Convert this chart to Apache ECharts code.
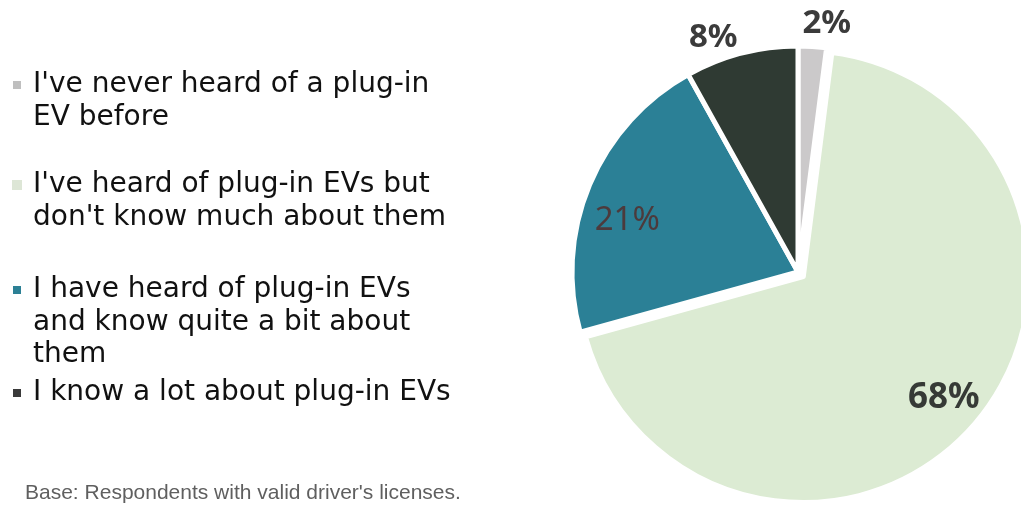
<!DOCTYPE html>
<html>
<head>
<meta charset="utf-8">
<script src="https://cdn.jsdelivr.net/npm/echarts@6/dist/echarts.min.js"></script>
<style>
  html, body { margin: 0; padding: 0; background: #ffffff; }
  #chart { width: 1021px; height: 508px; }
</style>
</head>
<body>
<div id="chart"></div>
<script>
// Survey answers about plug-in EV awareness (share of respondents, %)
const categories = [
  "I've never heard of a plug-in\nEV before",
  "I've heard of plug-in EVs but\ndon't know much about them",
  "I have heard of plug-in EVs\nand know quite a bit about\nthem",
  "I know a lot about plug-in EVs"
];
const shares = [2, 68, 21, 8];
const footnote = "Base: Respondents with valid driver's licenses.";

const colors = ['#cbc9ca', '#dcebd3', '#2b8096', '#2f3a33'];
const legendColors = ['#bfbfbf', '#dde6d6', '#2c8095', '#3a3a3a'];

// pie geometry; the large slice is pulled out from the centre
const PIE_CENTER = [798, 272];
const PIE_R = 226;
const EXPLODED = 1;
const EXPLODE_OFFSET = 7;
// label placement: fraction of radius along the slice bisector, plus a small nudge
const LABEL_POS = [
  { f: 1.10, dx: 13, dy: 0 },
  { f: 0.823, dx: 0, dy: 0 },
  { f: 0.80, dx: -4, dy: 18 },
  { f: 1.07, dx: -24, dy: 0 }
];
const labelStyles = [
  { fontSize: 33, fontWeight: 'bold', color: '#3b3b3b' },
  { fontSize: 35, fontWeight: 'bold', color: '#363a36' },
  { fontSize: 33, fontWeight: 'normal', color: '#4c3a3c' },
  { fontSize: 33, fontWeight: 'bold', color: '#3b3b3b' }
];
const LABEL_FONT = '"Noto Sans", "DejaVu Sans", sans-serif';
const LEGEND_FONT = '"DejaVu Sans", "Noto Sans", sans-serif';

const total = shares.reduce((a, b) => a + b, 0);
function midAngle(i) {
  const before = shares.slice(0, i).reduce((a, b) => a + b, 0);
  return (before + shares[i] / 2) / total * Math.PI * 2;
}
const explodeAngle = midAngle(EXPLODED);
const explodedCenter = [
  PIE_CENTER[0] + EXPLODE_OFFSET * Math.sin(explodeAngle),
  PIE_CENTER[1] - EXPLODE_OFFSET * Math.cos(explodeAngle)
];

// legend: one block per entry; leading blank lines keep the icon on the first text line
const LINE_H = 32.5;
const firstLineCenters = [85, 185, 290, 393];
const legends = categories.map((name, i) => {
  const n = name.split('\n').length;
  return {
    data: [{ name: name, itemStyle: { color: legendColors[i] } }],
    orient: 'vertical',
    left: 11,
    top: firstLineCenters[i] - (2 * n - 1) * LINE_H / 2,
    padding: 0,
    itemWidth: 10,
    itemHeight: 10,
    icon: 'rect',
    selectedMode: false,
    formatter: (nm) => '\n'.repeat(n - 1) + nm,
    textStyle: {
      fontFamily: LEGEND_FONT,
      fontSize: 28,
      color: '#111111',
      lineHeight: LINE_H,
      padding: [0, 0, 0, 6]
    }
  };
});

function pieLabelLayout(center) {
  return function (p) {
    const i = p.dataIndex;
    const a = midAngle(i);
    const lp = LABEL_POS[i];
    return {
      x: center[0] + lp.f * PIE_R * Math.sin(a) + lp.dx,
      y: center[1] - lp.f * PIE_R * Math.cos(a) + lp.dy,
      align: 'center',
      verticalAlign: 'middle'
    };
  };
}

const hidden = { color: 'rgba(0,0,0,0)', borderColor: 'rgba(0,0,0,0)' };

function pieSeries(center, drawExploded) {
  return {
    type: 'pie',
    center: center,
    radius: PIE_R,
    startAngle: 90,
    clockwise: true,
    avoidLabelOverlap: false,
    silent: true,
    itemStyle: { borderColor: '#ffffff', borderWidth: 5 },
    emphasis: { disabled: true },
    labelLine: { show: false },
    label: { show: true, position: 'inside', fontFamily: LABEL_FONT, formatter: '{c}%' },
    labelLayout: pieLabelLayout(center),
    data: categories.map((name, i) => {
      const visible = (i === EXPLODED) === drawExploded;
      return {
        name: name,
        value: shares[i],
        itemStyle: visible ? { color: colors[i] } : hidden,
        label: visible ? labelStyles[i] : { show: false }
      };
    })
  };
}

const chart = echarts.init(document.getElementById('chart'), null, { renderer: 'canvas' });
chart.setOption({
  backgroundColor: '#ffffff',
  animation: false,
  legend: legends,
  graphic: [{
    type: 'text',
    left: 25,
    top: 483,
    style: {
      text: footnote,
      font: '21px "Liberation Sans", Arial, sans-serif',
      fill: '#5f5f5f'
    }
  }],
  series: [
    pieSeries(PIE_CENTER, false),
    pieSeries(explodedCenter, true)
  ]
});
</script>
</body>
</html>
